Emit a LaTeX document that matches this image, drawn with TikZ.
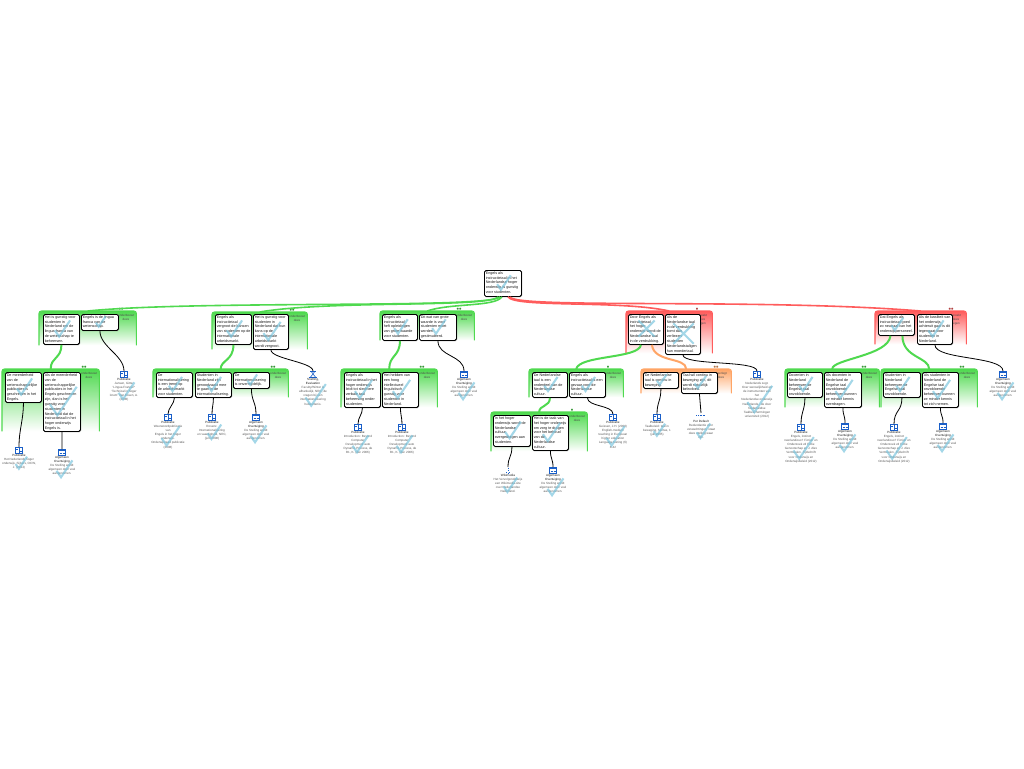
\documentclass[tikz,border=0pt]{standalone}
\usepackage{fontspec}
\setmainfont{Liberation Sans}
\usetikzlibrary{calc}
\definecolor{gr}{HTML}{4FD94F}
\definecolor{rd}{HTML}{FF5C5C}
\definecolor{og}{HTML}{FFA566}
\definecolor{ic}{HTML}{1A5FC8}
\definecolor{mk}{HTML}{74C2DC}
\tikzset{
 bodytext/.style={font=\fontsize{3.72}{4.85}\selectfont,align=left,inner sep=0pt,anchor=north west,text=black!90},
 srctext/.style={font=\fontsize{3.05}{4.1}\selectfont,align=center,inner sep=0pt,anchor=north,text=black!65},
 lbltext/.style={font=\fontsize{3.0}{3.9}\selectfont,align=center,inner sep=0pt,anchor=north,text=black!70},
 claimbox/.style={draw=black,line width=.85pt,fill=white,rounded corners=1.6pt,inner sep=0pt,anchor=north west},
 shadowbox/.style={draw=black!55,line width=1pt,rounded corners=1.6pt},
 grpbox/.style={rounded corners=2.5pt,inner sep=0pt,anchor=north west},
 icn/.style={inner sep=0pt,minimum width=7pt,minimum height=6pt,anchor=north},
 mkline/.style={draw=mk,opacity=.65,line width=2.1pt},
 blk/.style={draw=black,line width=.8pt},
 sup/.style={line width=2pt},
 rootl/.style={line width=1.6pt},
 icl/.style={draw=ic,line width=.6pt},
}
% check / cross
\newcommand\mkc[3]{\draw[mkline] ({#1-.75*#3},{#2+.2*#3}) -- ({#1-.3*#3},{#2+.85*#3}) -- ({#1+.85*#3},{#2-.85*#3});}
\newcommand\mkx[3]{\draw[mkline] ({#1-.85*#3},{#2-.85*#3}) -- ({#1+.85*#3},{#2+.85*#3}) ({#1-.85*#3},{#2+.85*#3}) -- ({#1+.85*#3},{#2-.85*#3});}
% group: name x0 y0 x1 y1 colour label dots
\newcommand\grp[8]{%
 \pgfmathsetmacro\gw{#4-#2}\pgfmathsetmacro\gh{#5-#3}%
 \node[grpbox,top color=#6,bottom color=white,minimum width=\gw pt,minimum height=\gh pt] (#1) at (#2,#3) {};
 \draw[#6,line width=1.1pt,rounded corners=2.5pt] (#1.south west) -- (#1.north west) -- (#1.north east) -- (#1.south east);
 \node[lbltext] (#1l) at ({#4-10},{#3+3}) {#7};
 \node[inner sep=0pt,font=\fontsize{7}{7}\selectfont\bfseries,text=#6!70!black] (#1d) at ({#4-15},{#3-1.6}) {#8};
}
% claim: name x0 y0 x1 y1 text mark
\newcommand\claim[7]{%
 \pgfmathsetmacro\cw{#4-#2}\pgfmathsetmacro\ch{#5-#3}%
 \pgfmathsetmacro\cs{.25*\ch+2}%
 \draw[shadowbox] ({#2+.7},{#3+.7}) rectangle ({#4+.7},{#5+.7});
 \node[claimbox,minimum width=\cw pt,minimum height=\ch pt] (#1) at (#2,#3) {};
 \node[bodytext] (#1t) at ({#2+1.6},{#3+1.4}) {#6};
 #7{(#2+#4)/2+1}{(#3+#5)/2-.5}{\cs}
}
% source: name x y nlines icon text
\newcommand\src[6]{%
 \node[icn] (#1) at (#2,#3) {};
 #5{#1}
 \node[srctext] (#1t) at (#2,{#3+7}) {#6};
 \pgfmathsetmacro\ss{(#4+1)*1.4+1.5}%
 \mkc{#2+2}{#3+7.5+(#4+1)*2.05}{\ss}
}
\newcommand\ipub[1]{\draw[icl] (#1.south west) rectangle (#1.north east);
 \draw[icl,line width=.4pt] (#1.north) -- (#1.south) ($(#1.west)+(1,-1)$) -- ($(#1.center)+(-1,-1)$) ($(#1.center)+(1,1)$) -- ($(#1.east)+(-1,1)$);}
\newcommand\ialg[1]{\draw[icl,line width=.8pt] (#1.south west) rectangle (#1.north east);
 \fill[ic] (#1.north west) rectangle ($(#1.east)+(0,-1)$);
 \draw[icl,line width=.4pt] ($(#1.center)+(-2.5,1)$) -- ($(#1.center)+(-.5,1)$) ($(#1.center)+(.5,1)$) -- ($(#1.center)+(2.5,1)$);}
\newcommand\iwik[1]{\draw[icl,dotted,line width=.7pt] ($(#1.north)+(0,.5)$) -- ($(#1.south)+(0,-.5)$);
 \draw[icl,dotted,line width=.7pt] ($(#1.center)+(-2,2.5)$) -- ($(#1.center)+(2,2.5)$);}
\newcommand\idef[1]{\draw[icl,line width=1pt,dash pattern=on 1pt off .6pt] ($(#1.west)+(-1,-.5)$) -- ($(#1.east)+(1,-.5)$);}
\newcommand\isne[1]{\draw[icl,line width=.9pt] (#1.south west) -- (#1.south east) ($(#1.north west)+(1,0)$) -- ($(#1.north east)+(-1,0)$);
 \draw[icl,line width=.6pt] ($(#1.north west)+(1.5,0)$) -- ($(#1.south east)+(-1,0)$) ($(#1.north east)+(-1.5,0)$) -- ($(#1.south west)+(1,0)$);}
\newcommand\lnk[3]{\draw[blk] (#1.south) .. controls ($(#1.south)+(0,#3)$) and ($(#2.north)+(0,-#3)$) .. (#2.north);}
\newcommand\algtext{\textcolor{black!90}{Algemeen}\\\textcolor{black!90}{Overtuiging}\\De Stelling wordt\\algemeen door veel\\aangenomen.}
\newcommand\hd[1]{\textcolor{black!90}{#1}}
\begin{document}
\begin{tikzpicture}[x=1pt,y=-1pt]
\useasboundingbox (0,0) rectangle (1024,768);
\fill[white] (0,0) rectangle (1024,768);
% groups
\grp{g1}{39}{311}{136}{345}{gr}{onderbouwt\\deze}{••}
\grp{g1a}{2}{369}{99}{431}{gr}{onderbouwt\\deze}{••}
\grp{g2}{212}{312}{307}{349}{gr}{onderbouwt\\deze}{••}
\grp{g2a}{153}{369}{288}{397}{gr}{onderbouwt\\deze}{••}
\grp{g3}{380}{311}{474}{340}{gr}{onderbouwt\\deze}{••}
\grp{g3a}{341}{369}{437}{407}{gr}{onderbouwt\\deze}{••}
\grp{g4}{626}{311}{712}{353}{rd}{spreekt\\deze\\tegen}{•}
\grp{g4a}{529}{369}{623}{397}{gr}{onderbouwt\\deze}{•}
\grp{g4b}{491}{412}{587}{451}{gr}{onderbouwt\\deze}{•}
\grp{g4c}{641}{369}{731}{393}{og}{weerlegt\\deze}{••}
\grp{g5}{875}{311}{966}{344}{rd}{spreekt\\deze\\tegen}{••}
\grp{g5a}{785}{369}{879}{407}{gr}{onderbouwt\\deze}{••}
\grp{g5b}{881}{369}{977}{407}{gr}{onderbouwt\\deze}{••}
% claims
\claim{root}{484}{270}{521}{296}{Engels als\\instructietaal in het\\Nederlandse hoger\\onderwijs is gunstig\\voor studenten.}{\mkc}
\claim{a1}{43}{314}{79}{344}{Het is gunstig voor\\studenten in\\Nederland om de\\lingua franca van\\de wetenschap te\\beheersen.}{\mkc}
\claim{a2}{81}{314}{118}{330}{Engels is de lingua\\franca van de\\wetenschap.}{\mkc}
\claim{a3}{5}{372}{41}{402}{De meerderheid\\van de\\wetenschappelijke\\publicaties is\\geschreven in het\\Engels.}{\mkc}
\claim{a4}{43}{372}{80}{431}{Als de meerderheid\\van de\\wetenschappelijke\\publicaties in het\\Engels geschreven\\zijn, dan is het\\gunstig voor\\studenten in\\Nederland dat de\\instructietaal in het\\hoger onderwijs\\Engels is.}{\mkc}
\claim{b1}{215}{314}{251}{344}{Engels als\\instructietaal\\vergroot de kansen\\van studenten op de\\internationale\\arbeidsmarkt.}{\mkc}
\claim{b2}{253}{314}{288}{349}{Het is gunstig voor\\studenten in\\Nederland dat hun\\kans op de\\internationale\\arbeidsmarkt\\wordt vergroot.}{\mkc}
\claim{b3}{156}{372}{192}{397}{De\\internationalisering\\is een trend op\\de arbeidsmarkt\\voor studenten.}{\mkc}
\claim{b4}{195}{372}{231}{397}{Studenten in\\Nederland zijn\\genoodzaakt mee\\te gaan in de\\internationalisering.}{\mkc}
\claim{b5}{233}{372}{269}{388}{De\\internationalisering\\is onvermijdelijk.}{\mkc}
\claim{c1}{382}{314}{417}{340}{Engels als\\instructietaal\\heft opleidingen\\van grote waarde\\voor studenten.}{\mkc}
\claim{c2}{419}{314}{456}{340}{Dit wat van grote\\waarde is voor\\studenten moet\\worden\\gestimuleerd.}{\mkc}
\claim{c3}{344}{372}{380}{407}{Engels als\\instructietaal in het\\hoger onderwijs\\leidt tot slechtere\\verbale taal\\beheersing onder\\studenten.}{\mkc}
\claim{c4}{382}{372}{418}{407}{Het hebben van\\een hoog\\intellectueel\\linguïstisch\\gunstig voor\\studenten in\\Nederland.}{\mkc}
\claim{d1}{628}{314}{663}{344}{Door Engels als\\instructietaal\\het hoger\\onderwijs wordt de\\Nederlandse taal\\in de verdrukking.}{\mkx}
\claim{d2}{665}{314}{700}{354}{Als de\\Nederlandse taal\\in de verdrukking\\komt dan\\verliezen\\studenten\\Nederlandstaligen\\hun moedertaal.}{\mkx}
\claim{d3}{532}{372}{567}{397}{De Nederlandse\\taal is een\\onderdeel van de\\Nederlandse\\cultuur.}{\mkc}
\claim{d4}{569}{372}{605}{397}{Engels als\\instructietaal is een\\gevaar voor de\\Nederlandse\\cultuur.}{\mkc}
\claim{d5}{493}{415}{530}{446}{In het hoger\\onderwijs wordt de\\Nederlandse\\cultuur\\overgedragen aan\\studenten.}{\mkc}
\claim{d6}{532}{415}{568}{450}{Het is de taak van\\het hoger onderwijs\\om zorg te dragen\\voor het behoud\\van de\\Nederlandse\\cultuur.}{\mkc}
\claim{d7}{643}{372}{678}{388}{De Nederlandse\\taal is continu in\\beweging.}{\mkc}
\claim{d8}{681}{372}{717}{393}{Taal wil continu in\\beweging zijn, dit\\wordt natuurlijk\\beïnvloed.}{\mkc}
\claim{e1}{878}{314}{914}{335}{Dat Engels als\\instructietaal goed\\zo neutraal van het\\onderwijspersoneel.}{\mkc}
\claim{e2}{917}{314}{952}{344}{Als de kwaliteit van\\het onderwijs\\achteruit gaat is dit\\tegengaat voor\\studenten in\\Nederland.}{\mkc}
\claim{e3}{787}{372}{822}{397}{Docenten in\\Nederland\\beheersen de\\Engelse taal\\onvoldoende.}{\mkc}
\claim{e4}{824}{372}{861}{407}{Als docenten in\\Nederland de\\Engelse taal\\onvoldoende\\beheersen kunnen\\ze minder kennis\\overdragen.}{\mkc}
\claim{e5}{883}{372}{920}{397}{Studenten in\\Nederland\\beheersen de\\Engelse taal\\onvoldoende.}{\mkc}
\claim{e6}{922}{372}{958}{407}{Als studenten in\\Nederland de\\Engelse taal\\onvoldoende\\beheersen kunnen\\ze minder kennis\\tot zich nemen.}{\mkc}
% sources
\src{s1}{19}{447}{3}{\ipub}{\hd{Publicatie}\\Het Nederlands hoger\\onderwijs, Sijbers, OCW,\\J. (2014)}
\src{s2}{62}{449}{5}{\ialg}{\algtext}
\src{s3}{124}{371}{5}{\ipub}{\hd{Publicatie}\\Jansen, Gitta:\\`Lingua Franca?'\\`Technical in hoger\\lorem' Van Essen, A.\\(2006)}
\src{s4}{168}{414}{6}{\ipub}{\hd{Publicatie}\\Weerwoordpublicatie\\van\\Engels in het hoger\\onderwijs.\\Onderwijsraad publicatie\\(2008)}
\src{s5}{212}{414}{4}{\ipub}{\hd{Publicatie}\\Rosenz.\\Internationalisering\\en vaardigheid, NRC,\\(juni 2008)}
\src{s6}{256}{414}{5}{\ialg}{\algtext}
\src{s7}{313}{371}{7}{\isne}{\hd{Snelling,}\\\hd{Evaluation}\\Faculty/Winter is\\afhankelijk, NRC, de\\vragen bij een\\internationalisering\\hebeurtenis.}
\src{s8}{358}{424}{5}{\ipub}{\hd{Publicatie}\\Introduction: Beyond\\Computer\\Development auto\\Dynamic Process, de\\B1, K. (dec 2006)}
\src{s9}{402}{424}{5}{\ipub}{\hd{Publicatie}\\Introduction: Beyond\\Computer\\Development auto\\Dynamic Process, de\\B1, K. (dec 2006)}
\src{s10}{464}{371}{5}{\ialg}{\algtext}
\src{s11}{508}{467}{4}{\iwik}{\hd{Wikimedia}\\Het Vervolgonderwijs\\een Wikimedia-site\\over Nederlandse\\Nederland.}
\src{s12}{553}{467}{5}{\ialg}{\algtext}
\src{s13}{613}{414}{6}{\ipub}{\hd{Publicatie}\\Geissen, J.H. (2008)\\English-medium\\teaching in European\\higher education\\Language testing (6)\\8-42}
\src{s14}{657}{414}{3}{\ipub}{\hd{Publicatie}\\Taalbeleid: taal in\\beweging, Sentas, 1\\(juli 2005)}
\src{s15}{701}{413}{4}{\idef}{\hd{Per Default}\\Redundantie voor\\verwachtingen, staat\\deze stelling waar\\zijn.}
\src{s16}{757}{371}{9}{\ipub}{\hd{Publicatie}\\Nederlands zegt.\\Over wenselijkheid en\\de instrumenten van\\het\\Nederlandse onderwijs\\Nederlands - de door\\Nederlandse\\Taalbeschermingen\\universiteit (2012)}
\src{s17}{801}{424}{7}{\ipub}{\hd{Publicatie}\\Engels, instinct\\neerlandicus? Fiction en\\Onderzoek vd Fictie\\Genootschap en J. Alex\\Vermeulen. Tijdschrift\\voor Onderwijs en\\Onderwijsbeleid (2012)}
\src{s18}{845}{423}{5}{\ialg}{\algtext}
\src{s19}{894}{424}{7}{\ipub}{\hd{Publicatie}\\Engels, instinct\\neerlandicus? Fiction en\\Onderzoek vd Fictie\\Genootschap en J. Alex\\Vermeulen. Tijdschrift\\voor Onderwijs en\\Onderwijsbeleid (2012)}
\src{s20}{943}{423}{5}{\ialg}{\algtext}
\src{s21}{1003}{371}{5}{\ialg}{\algtext}
% source connectors
\lnk{a2}{s3}{16}\lnk{a3}{s1}{18}\lnk{a4}{s2}{7}
\lnk{b2}{s7}{9}\lnk{b3}{s4}{6}\lnk{b4}{s5}{7}\lnk{b5}{s6}{12}
\lnk{c2}{s10}{16}\lnk{c3}{s8}{7}\lnk{c4}{s9}{7}
\lnk{d2}{s16}{11}\lnk{d4}{s13}{9}\lnk{d5}{s11}{10}\lnk{d6}{s12}{8}\lnk{d7}{s14}{12}\lnk{d8}{s15}{9}
\lnk{e2}{s21}{15}\lnk{e3}{s17}{12}\lnk{e4}{s18}{8}\lnk{e5}{s19}{14}\lnk{e6}{s20}{8}
% support links
\draw[gr,sup] (a1.south) .. controls +(0,14) and +(0,-12) .. (g1a.north);
\draw[gr,sup] (b1.south) .. controls +(0,16) and +(0,-9) .. (g2a.north);
\draw[gr,sup] (c1.south) .. controls +(0,16) and +(0,-14) .. (g3a.north);
\draw[gr,sup] ($(d1.south)+(-5,0)$) .. controls +(-2,14) and +(3,-14) .. (g4a.north);
\draw[gr,sup] (d3.south) .. controls +(0,9) and +(0,-7) .. (g4b.north);
\draw[og,sup] ($(d1.south)+(6,0)$) .. controls +(2,18) and +(0,-12) .. (g4c.north);
\draw[gr,sup] ($(e1.south)+(-6,0)$) .. controls +(-2,20) and +(0,-10) .. (g5a.north);
\draw[gr,sup] ($(e1.south)+(6,0)$) .. controls +(0,22) and +(0,-12) .. (g5b.north);
% root links
\draw[gr,rootl] ($(root.south)+(-3,0)$) .. controls (490,309) and (200,300) .. (g1.north);
\draw[gr,rootl] ($(root.south)+(-5,0)$) .. controls (490,308) and (330,300) .. (g2.north);
\draw[gr,rootl] ($(root.south)+(-1,0)$) .. controls (495,307) and (450,303) .. (g3.north);
\draw[rd,rootl] ($(root.south)+(5,0)$) .. controls (515,308) and (620,300) .. (g4.north);
\draw[rd,rootl] ($(root.south)+(7,0)$) .. controls (515,309) and (760,298) .. (g5.north);
\end{tikzpicture}
\end{document}
